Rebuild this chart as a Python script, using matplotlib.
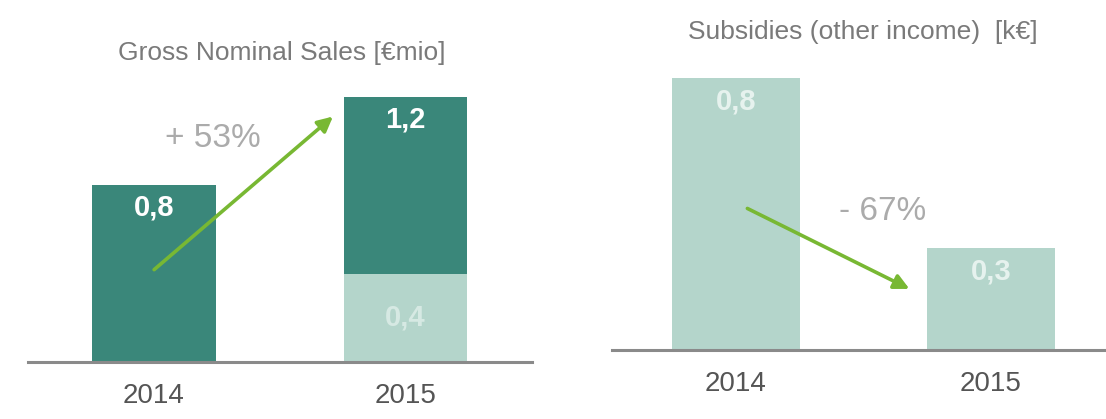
import matplotlib.pyplot as plt
import numpy as np

plt.rcParams["font.family"] = ["Liberation Sans", "DejaVu Sans"]

# Gross nominal sales [€mio]
years = ["2014", "2015"]
sales_total = [0.8, 1.2]
sales_lower = [0.0, 0.4]
sales_labels = ["0,8", "1,2"]
lower_labels = ["", "0,4"]
sales_change = "+ 53%"

# Subsidies (other income) [k€]
subsidies = [0.8, 0.3]
subsidy_labels = ["0,8", "0,3"]
subsidy_change = "- 67%"

DARK = "#3a877a"
LIGHT = "#b4d5cb"
GREEN = "#78b833"
AXIS = "#8a8a8a"
W, H = 1106, 419

fig = plt.figure(figsize=(W / 100, H / 100), dpi=100)
fig.patch.set_facecolor("white")


def px_axes(x0, x1, y_top, y_base):
    return fig.add_axes([x0 / W, 1 - y_base / H, (x1 - x0) / W, (y_base - y_top) / H])


def style(ax, xlim, ylim):
    ax.set_xlim(*xlim)
    ax.set_ylim(*ylim)
    for s in ["top", "right", "left"]:
        ax.spines[s].set_visible(False)
    ax.spines["bottom"].set_color(AXIS)
    ax.spines["bottom"].set_linewidth(2.2)
    ax.set_yticks([])
    ax.set_xticks(range(len(years)))
    ax.set_xticklabels(years, fontsize=20, color="#555555")
    ax.tick_params(axis="x", length=0, pad=15)
    ax.set_facecolor("none")


x = np.arange(len(years))
arrow = dict(arrowstyle="-|>,head_length=0.9,head_width=0.45", color=GREEN, lw=2.6)

# left chart: stacked sales bars
ax1 = px_axes(28, 532, 20, 362)
style(ax1, (-0.501, 1.503), (0, 342 / 220.8))
upper = [t - l for t, l in zip(sales_total, sales_lower)]
ax1.bar(x, sales_lower, width=0.493, color=LIGHT, zorder=2)
ax1.bar(x, upper, bottom=sales_lower, width=0.493, color=DARK, zorder=2)
for xi, t, lab in zip(x, sales_total, sales_labels):
    ax1.text(xi, t - 0.1, lab, ha="center", va="center", color="white",
             fontsize=21, fontweight="bold", zorder=4)
for xi, l, lab in zip(x, sales_lower, lower_labels):
    if lab:
        ax1.text(xi, l - 0.2, lab, ha="center", va="center", color="#d6e9e3",
                 fontsize=21, fontweight="bold", zorder=4)
ax1.annotate("", xy=(0.72, 1.12), xytext=(-0.008, 0.41), arrowprops=arrow, zorder=5)
ax1.text(0.235, 1.01, sales_change, ha="center", va="center", fontsize=24,
         color="#ababab", zorder=5)

# right chart: subsidies
ax2 = px_axes(612, 1106, 20, 350)
style(ax2, (-0.486, 1.451), (0, 330 / 340))
ax2.bar(x, subsidies, width=0.5, color=LIGHT, zorder=2)
for xi, v, lab in zip(x, subsidies, subsidy_labels):
    ax2.text(xi, v - 0.07, lab, ha="center", va="center", color="#e6f2ee",
             fontsize=21, fontweight="bold", zorder=4)
ax2.annotate("", xy=(0.69, 0.176), xytext=(0.035, 0.42), arrowprops=arrow, zorder=5)
ax2.text(0.576, 0.406, subsidy_change, ha="center", va="center", fontsize=24,
         color="#ababab", zorder=5)

fig.text(282 / W, 1 - 53 / H, "Gross Nominal Sales [€mio]", ha="center",
         va="center", fontsize=19, color="#7a7a7a")
fig.text(863 / W, 1 - 32 / H, "Subsidies (other income)  [k€]", ha="center",
         va="center", fontsize=19, color="#7a7a7a")

fig.savefig("out.png", dpi=100, facecolor="white")
